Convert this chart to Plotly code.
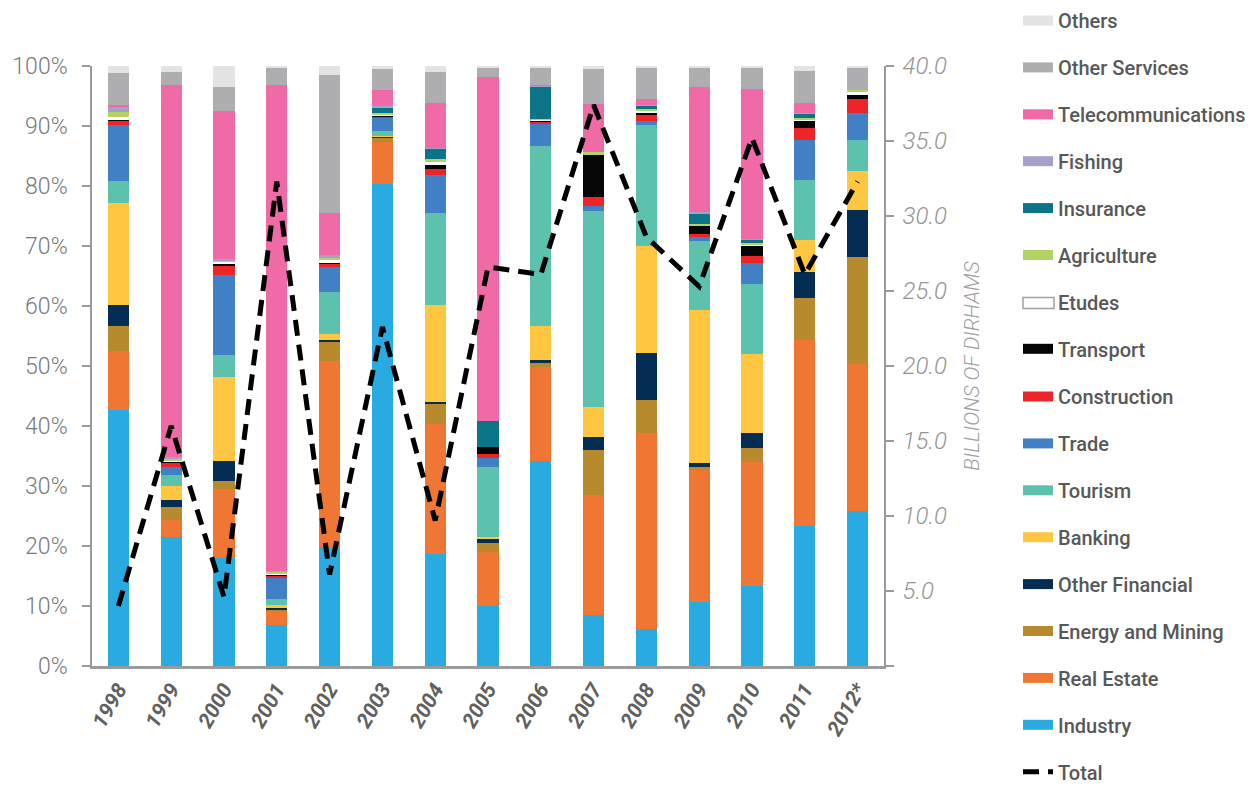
import plotly.graph_objects as go

years = ["1998", "1999", "2000", "2001", "2002", "2003", "2004", "2005",
         "2006", "2007", "2008", "2009", "2010", "2011", "2012*"]

# shares (%) by sector, bottom of stack first
industry = [42.8, 21.8, 18.1, 6.8, 19.9, 80.8, 18.8, 10.0, 34.3, 8.6, 6.2, 10.7, 13.45, 23.4, 25.8]
real_estate = [9.9, 2.8, 11.4, 2.4, 31.0, 7.2, 21.7, 9.1, 15.8, 20.0, 32.9, 22.1, 20.7, 31.2, 24.6]
energy_mining = [4.3, 2.1, 1.45, 0.2, 3.3, 0.67, 3.4, 1.45, 0.55, 7.5, 5.55, 0.55, 2.28, 6.9, 17.9]
other_financial = [3.5, 1.3, 3.3, 0.3, 0.2, 0.1, 0.3, 0.8, 0.5, 2.2, 7.9, 0.55, 2.6, 4.45, 7.8]
banking = [17.1, 2.3, 14.0, 0.5, 1.1, 0.2, 16.2, 0.1, 5.7, 4.9, 17.9, 25.7, 13.2, 5.3, 6.5]
tourism = [3.7, 1.9, 3.7, 1.0, 7.05, 0.8, 15.3, 11.7, 30.1, 32.8, 20.3, 11.5, 11.6, 10.0, 5.2]
trade = [9.3, 1.3, 13.3, 3.5, 4.2, 2.1, 6.4, 1.6, 3.9, 0.83, 0.73, 0.72, 3.55, 6.7, 4.45]
construction = [0.8, 0.7, 1.55, 0.5, 0.45, 0.4, 1.1, 0.6, 0.2, 1.5, 0.93, 0.38, 1.23, 2.1, 2.33]
transport = [0.2, 0.2, 0.3, 0.2, 0.3, 0.1, 0.55, 1.2, 0.23, 7.05, 0.5, 1.45, 1.67, 1.23, 0.75]
etudes = [0.3, 0.2, 0.4, 0.2, 0.3, 0.1, 0.55, 0.0, 0.1, 0.1, 0.2, 0.1, 0.2, 0.1, 0.4]
agriculture = [0.9, 0.3, 0.3, 0.2, 0.4, 0.3, 0.5, 0.0, 0.17, 0.33, 0.3, 0.2, 0.2, 0.38, 0.4]
insurance = [0.0, 0.0, 0.0, 0.0, 0.0, 0.8, 1.7, 4.3, 5.5, 0.0, 0.67, 1.83, 0.62, 0.62, 0.0]
fishing = [0.9, 0.2, 0.2, 0.2, 0.4, 0.45, 0.1, 0.0, 0.1, 0.0, 0.1, 0.1, 0.1, 0.1, 0.0]
telecom = [0.3, 62.7, 24.7, 81.5, 7.1, 2.6, 7.6, 57.5, 0.15, 8.07, 1.0, 21.0, 25.0, 1.77, 0.0]
other_services = [5.3, 2.2, 4.0, 2.9, 23.0, 3.6, 5.2, 1.6, 2.7, 5.9, 5.2, 3.3, 3.7, 5.3, 3.8]
others = [1.2, 1.0, 3.5, 0.3, 1.55, 0.45, 0.95, 0.2, 0.4, 0.45, 0.28, 0.2, 0.2, 0.83, 0.2]

# total, billions of dirhams
total = [4.0, 16.0, 4.6, 32.3, 6.1, 22.6, 9.7, 26.6, 26.1, 37.4, 28.6, 25.3, 35.2, 26.1, 32.3]

pct_ticks = [0, 10, 20, 30, 40, 50, 60, 70, 80, 90, 100]
pct_labels = ["0%", "10%", "20%", "30%", "40%", "50%", "60%", "70%", "80%", "90%", "100%"]
bn_ticks = [0, 5, 10, 15, 20, 25, 30, 35, 40]
bn_labels = ["", "5.0", "10.0", "15.0", "20.0", "25.0", "30.0", "35.0", "40.0"]

series = [
    ("Industry", industry, "#29ABE2"),
    ("Real Estate", real_estate, "#F07733"),
    ("Energy and Mining", energy_mining, "#B78A2E"),
    ("Other Financial", other_financial, "#032D52"),
    ("Banking", banking, "#FFC642"),
    ("Tourism", tourism, "#5CC2AE"),
    ("Trade", trade, "#4180C4"),
    ("Construction", construction, "#EE2528"),
    ("Transport", transport, "#050505"),
    ("Etudes", etudes, "#FFFFFF"),
    ("Agriculture", agriculture, "#B1D465"),
    ("Insurance", insurance, "#0C7487"),
    ("Fishing", fishing, "#A99FCC"),
    ("Telecommunications", telecom, "#F06AA7"),
    ("Other Services", other_services, "#AEAEB0"),
    ("Others", others, "#E3E3E3"),
]

FONT = "Roboto, Arial, sans-serif"

fig = go.Figure()

for name, vals, col in series:
    fig.add_trace(go.Bar(
        x=years, y=vals, name=name, marker=dict(color=col, line=dict(width=0)),
        width=0.4, showlegend=False, yaxis="y"))

# legend entries (wide swatches), top to bottom, split over two legend boxes
top_names = ["Others", "Other Services", "Telecommunications", "Fishing",
             "Insurance", "Agriculture", "Etudes", "Transport"]
for name, vals, col in reversed(series):
    lc = col if name != "Etudes" else "rgba(0,0,0,0)"
    fig.add_trace(go.Scatter(
        x=[None], y=[None], mode="lines", name=name, legendgroup=name,
        legend="legend" if name in top_names else "legend2",
        line=dict(color=lc, width=11), showlegend=True, hoverinfo="skip"))

fig.add_trace(go.Scatter(
    x=years, y=total, name="Total", legendgroup="Total", yaxis="y2",
    legend="legend2",
    mode="lines", line=dict(color="black", width=5, dash="16px,9px")))

legend_font = dict(family=FONT, size=20, color="#585858", weight=500)
LX = 1018
STEP = 47.0
FIRST = 21.0

# Etudes swatch: white box with grey outline, sitting under the legend entry
ex0, ex1, ey_c = LX + 5, LX + 36, FIRST + 6 * STEP
fig.add_shape(type="rect", xref="paper", yref="paper",
              x0=(ex0 - 92) / 792, x1=(ex1 - 92) / 792,
              y0=(666 - (ey_c - 5.5)) / 600, y1=(666 - (ey_c + 5.5)) / 600,
              fillcolor="white", line=dict(color="#a0a0a0", width=1.5))

fig.update_layout(
    width=1248, height=793,
    margin=dict(l=92, r=364, t=66, b=127),
    paper_bgcolor="white", plot_bgcolor="white",
    barmode="stack", barnorm="percent",
    font=dict(family=FONT, color="#666666"),
    xaxis=dict(
        type="category", tickangle=-60,
        tickfont=dict(family=FONT, size=21, color="#606060", weight="bold", style="italic"),
        showline=True, linecolor="#9a9a9a", linewidth=3, ticks="",
        showgrid=False, zeroline=False),
    yaxis=dict(
        range=[0, 100], tickmode="array", tickvals=pct_ticks, ticktext=pct_labels,
        tickfont=dict(family=FONT, size=23, color="#7a7a7a", weight=300),
        showline=True, linecolor="#9a9a9a", linewidth=1.5,
        ticks="outside", ticklen=8, tickcolor="#9a9a9a", tickwidth=1.5,
        ticklabelstandoff=10,
        showgrid=False, zeroline=False),
    yaxis2=dict(
        overlaying="y", side="right", range=[0, 40],
        tickmode="array", tickvals=bn_ticks, ticktext=bn_labels,
        tickfont=dict(family=FONT, size=24, color="#959595", style="italic", weight=300),
        showline=True, linecolor="#9a9a9a", linewidth=1.5,
        ticks="outside", ticklen=8, tickcolor="#9a9a9a", tickwidth=1.5,
        ticklabelstandoff=4,
        showgrid=False, zeroline=False,
        title=dict(text="BILLIONS OF DIRHAMS", standoff=18,
                   font=dict(family=FONT, size=21, color="#a0a0a0", style="italic", weight=300))),
    legend=dict(
        xref="container", x=LX / 1248, xanchor="left",
        yref="paper", y=1 + (66 - (FIRST - 20)) / 600, yanchor="top",
        traceorder="grouped", tracegroupgap=17.9,
        font=legend_font, bgcolor="rgba(0,0,0,0)", itemwidth=30),
    legend2=dict(
        xref="container", x=LX / 1248, xanchor="left",
        yref="paper", y=(666 - (FIRST + 8 * STEP - 20)) / 600, yanchor="top",
        traceorder="grouped", tracegroupgap=17.9,
        font=legend_font, bgcolor="rgba(0,0,0,0)", itemwidth=30),
    showlegend=True,
)

fig.write_html("out.html")
